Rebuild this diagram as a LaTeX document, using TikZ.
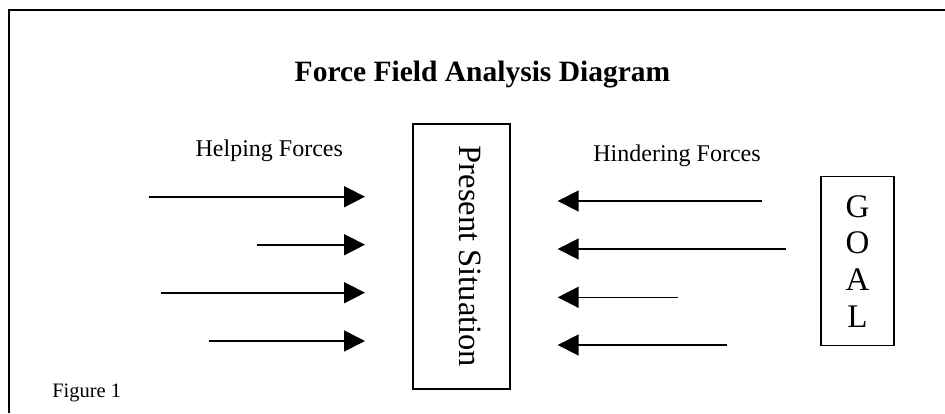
\documentclass[tikz,border=0pt]{standalone}
\usepackage{fontspec}
\setmainfont{Liberation Serif}
\usetikzlibrary{arrows.meta}

\begin{document}
\begin{tikzpicture}[x=1pt,y=-1pt,
    force/.style={black, line width=1.6pt, -{Triangle[length=21pt,width=21pt]}},
    box/.style={draw, black, line width=1.3pt, inner sep=0pt}]
  \useasboundingbox (0,0) rectangle (945,413);
  % frame
  \draw[black, line width=2.2pt] (9,413) -- (9,10) -- (945,10);

  \node[anchor=base, font=\fontsize{29.5}{34}\selectfont\bfseries] (title) at (482.5,81.7) {Force Field Analysis Diagram};
  \node[anchor=base, font=\fontsize{24}{28}\selectfont] (helping) at (269.3,156) {Helping Forces};
  \node[anchor=base, font=\fontsize{24}{28}\selectfont] (hindering) at (677,161.7) {Hindering Forces};

  \node[box, minimum width=97pt, minimum height=265pt] (present) at (461.5,256.5) {};
  \node[rotate=-90, font=\fontsize{32.5}{36}\selectfont] (presenttext) at (470,256.5) {Present Situation};

  \node[box, minimum width=73pt, minimum height=169pt, align=center,
        font=\fontsize{33}{36.7}\selectfont] (goal) at (857.5,261.2) {G\\O\\A\\L};

  \node[anchor=base, font=\fontsize{20.5}{24}\selectfont] (figure) at (86.7,397) {Figure 1};

  % helping forces
  \coordinate (h1) at (149,196.7);  \coordinate (h1e) at (365,196.7);
  \coordinate (h2) at (257,244.7);  \coordinate (h2e) at (365,244.7);
  \coordinate (h3) at (161,292.7);  \coordinate (h3e) at (365,292.7);
  \coordinate (h4) at (209,341);    \coordinate (h4e) at (365,341);
  \draw[force] (h1) -- (h1e);
  \draw[force] (h2) -- (h2e);
  \draw[force] (h3) -- (h3e);
  \draw[force] (h4) -- (h4e);

  % hindering forces
  \coordinate (r1) at (762,201);    \coordinate (r1e) at (557.7,201);
  \coordinate (r2) at (786,249);    \coordinate (r2e) at (557.7,249);
  \coordinate (r3) at (678,297.3);  \coordinate (r3e) at (557.7,297.3);
  \coordinate (r4) at (726.7,345);  \coordinate (r4e) at (557.7,345);
  \draw[force] (r1) -- (r1e);
  \draw[force] (r2) -- (r2e);
  \draw[force] (r3) -- (r3e);
  \draw[force] (r4) -- (r4e);
\end{tikzpicture}
\end{document}
